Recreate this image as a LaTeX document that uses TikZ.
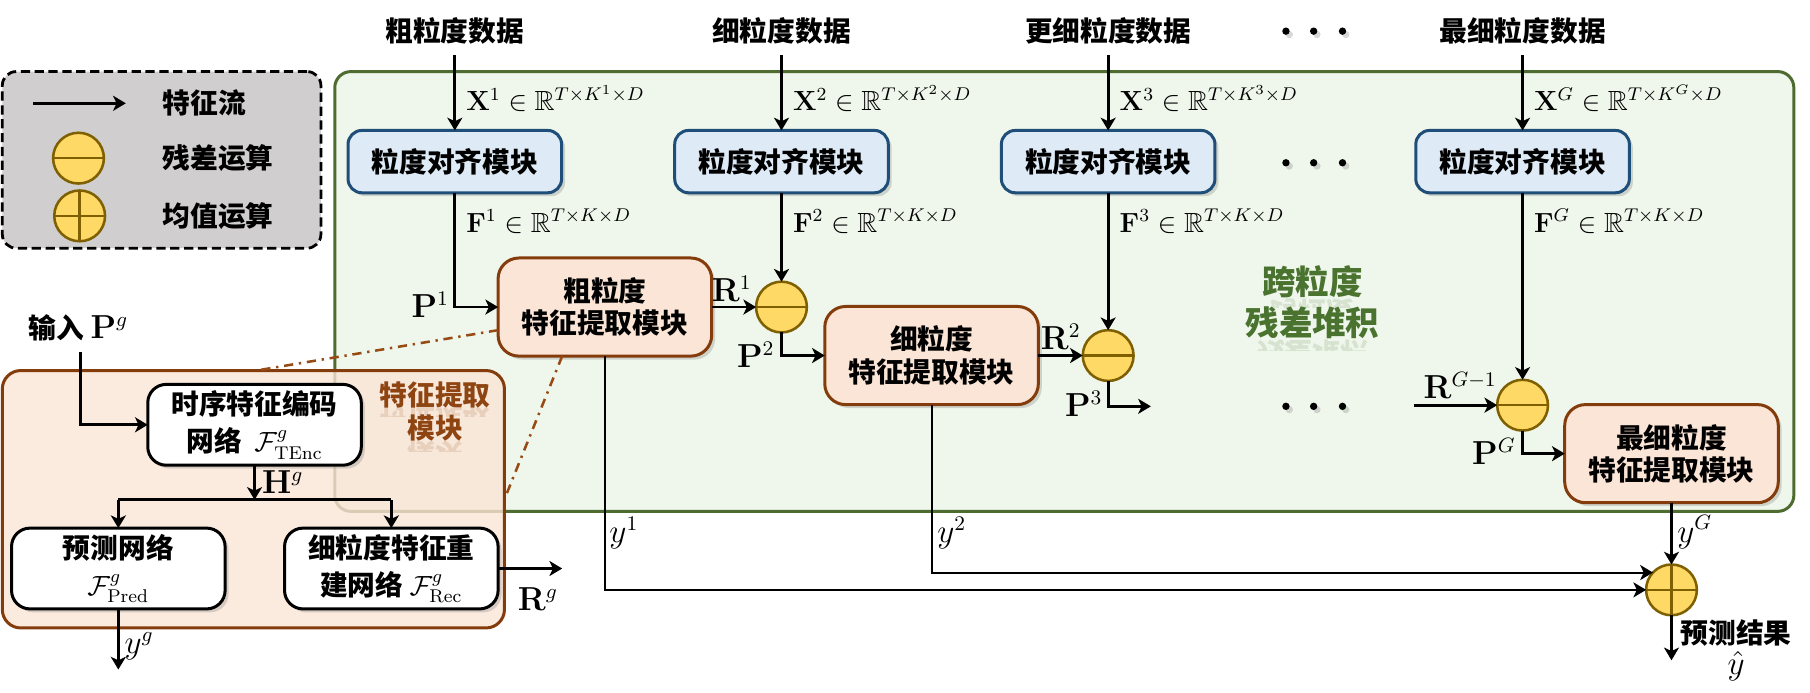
\documentclass[tikz,border=0pt]{standalone}
\usepackage{amsmath,amssymb}
\usepackage[no-math]{fontspec}
\setmainfont{Noto Sans CJK SC}
\usetikzlibrary{arrows.meta,shadows,calc}
\definecolor{gborder}{HTML}{4E6B30}
\definecolor{gfill}{HTML}{EFF6EB}
\definecolor{bfill}{HTML}{DEEBF7}
\definecolor{bborder}{HTML}{1F4E79}
\definecolor{ofill}{HTML}{FBE5D6}
\definecolor{oborder}{HTML}{843C0C}
\definecolor{cfill}{HTML}{FFD966}
\definecolor{cborder}{HTML}{7F6000}
\definecolor{legfill}{HTML}{D0CECE}
\definecolor{gtext}{HTML}{4A7330}
\definecolor{btext}{HTML}{8F4512}
\definecolor{dashc}{HTML}{984A14}
\newcommand{\myrefl}[6]{% x, y, text, color, axis offset, clip depth
  \begin{scope}
    \clip (#1-80,#2+#5) rectangle (#1+80,#2+#5+#6);
    \node[transform shape, yscale=-1, opacity=0.14, text=#4] at (#1,#2+2*#5) {#3};
  \end{scope}}
\begin{document}
\begin{tikzpicture}[x=0.5pt,y=-0.5pt,
  font=\fontsize{12}{14}\selectfont\bfseries,
  every node/.style={inner sep=0pt, outer sep=0pt},
  arr/.style={-{Stealth[length=5.5pt,width=6.5pt,inset=1.5pt]}, line width=1.2pt},
  yarr/.style={-{Stealth[length=5.5pt,width=6.5pt,inset=1.5pt]}, line width=0.9pt},
  ln/.style={line width=1.2pt},
  sym/.style={font=\fontsize{13.5}{15}\selectfont},
  shd/.style={drop shadow={opacity=0.3, shadow xshift=1.5pt, shadow yshift=-1.5pt}},
  alignbox/.style={draw=bborder, fill=bfill, line width=1.3pt, rounded corners=6pt,
    minimum width=92.5pt, minimum height=27pt, shd},
  modbox/.style={draw=oborder, fill=ofill, line width=1.3pt, rounded corners=9pt,
    minimum width=92.5pt, minimum height=42.5pt, align=center, shd},
  netbox/.style={draw=black, fill=white, line width=1.3pt, rounded corners=8pt,
    minimum width=92.5pt, minimum height=35pt, align=center, shd,
    font=\fontsize{12}{15}\selectfont\bfseries},
  opminus/.style={circle, draw=cborder, fill=cfill, line width=1.1pt, minimum size=22pt,
    path picture={\draw[cborder, line width=1.1pt] (path picture bounding box.west) -- (path picture bounding box.east);}},
  opplus/.style={circle, draw=cborder, fill=cfill, line width=1.1pt, minimum size=22pt,
    path picture={\draw[cborder, line width=1.1pt] (path picture bounding box.west) -- (path picture bounding box.east);
      \draw[cborder, line width=1.1pt] (path picture bounding box.north) -- (path picture bounding box.south);}},
  dotn/.style={circle, fill=black, minimum size=3.2pt,
    circular drop shadow={opacity=0.3, shadow xshift=1.2pt, shadow yshift=-1.2pt}},
  dd/.style={dashc, line width=1.1pt, dash pattern=on 4pt off 2.5pt on 1pt off 2.5pt},
]
\fill[white] (0,0) rectangle (1568,599.5);
\useasboundingbox (0,0) rectangle (1568,599.5);

% containers
\node[draw=gborder, fill=gfill, line width=1.3pt, rounded corners=7pt,
  minimum width=632pt, minimum height=190.5pt] (gbox) at (922,252.5) {};
\node[draw=oborder, fill=ofill, fill opacity=0.8, line width=1.3pt, rounded corners=8pt,
  minimum width=217.5pt, minimum height=111.5pt] (febox) at (219.5,432.5) {};

% legend
\node[draw=black, dashed, dash pattern=on 4pt off 2pt, fill=legfill, line width=1.2pt, rounded corners=6pt,
  minimum width=138pt, minimum height=76.5pt] (leg) at (140,138.5) {};
\coordinate (la1) at (29,89.5);
\coordinate (la2) at (109,89.5);
\draw[arr] (la1) -- (la2);
\node[anchor=west] (lt1) at (141,89.5) {特征流};
\node[opminus] (lm) at (68,137) {};
\node[anchor=west] (lt2) at (141,137) {残差运算};
\node[opplus] (lp) at (69,187) {};
\node[anchor=west] (lt3) at (141,187) {均值运算};

% top labels
\node (t1) at (394,27) {粗粒度数据};
\node (t2) at (677,27) {细粒度数据};
\node (t3) at (960,27) {更细粒度数据};
\node (tG) at (1319,27) {最细粒度数据};
\foreach \i/\yy in {1/27,2/141,3/352}{
  \node[dotn] (da\i) at (1114,\yy) {};
  \node[dotn] (db\i) at (1138,\yy) {};
  \node[dotn] (dc\i) at (1163,\yy) {};
}
\coordinate (s1) at (394,48);
\coordinate (s2) at (677,48);
\coordinate (s3) at (960,48);
\coordinate (sG) at (1319,48);

% alignment boxes
\node[alignbox] (a1) at (394,140) {粒度对齐模块};
\node[alignbox] (a2) at (677,140) {粒度对齐模块};
\node[alignbox] (a3) at (960,140) {粒度对齐模块};
\node[alignbox] (aG) at (1319,140) {粒度对齐模块};
\draw[arr] (s1) -- (a1.north);
\draw[arr] (s2) -- (a2.north);
\draw[arr] (s3) -- (a3.north);
\draw[arr] (sG) -- (aG.north);
\node[anchor=base west] (x1) at (404,96) {$\mathbf{X}^1\in\mathbb{R}^{T\times K^1\times D}$};
\node[anchor=base west] (x2) at (687,96) {$\mathbf{X}^2\in\mathbb{R}^{T\times K^2\times D}$};
\node[anchor=base west] (x3) at (970,96) {$\mathbf{X}^3\in\mathbb{R}^{T\times K^3\times D}$};
\node[anchor=base west] (xG) at (1329,96) {$\mathbf{X}^G\in\mathbb{R}^{T\times K^G\times D}$};
\node[anchor=base west] (f1) at (404,201) {$\mathbf{F}^1\in\mathbb{R}^{T\times K\times D}$};
\node[anchor=base west] (f2) at (687,201) {$\mathbf{F}^2\in\mathbb{R}^{T\times K\times D}$};
\node[anchor=base west] (f3) at (970,201) {$\mathbf{F}^3\in\mathbb{R}^{T\times K\times D}$};
\node[anchor=base west] (fG) at (1329,201) {$\mathbf{F}^G\in\mathbb{R}^{T\times K\times D}$};

% modules and residual ops
\node[modbox] (m1) at (524,266) {粗粒度\\特征提取模块};
\node[modbox] (m2) at (807,308) {细粒度\\特征提取模块};
\node[modbox] (mG) at (1448,393) {最细粒度\\特征提取模块};
\node[opminus] (c1) at (677,266) {};
\node[opminus] (c2) at (960,308) {};
\node[opminus] (cG) at (1319,351) {};

\draw[arr] (a1.south) |- (m1.west);
\draw[arr] (m1.east) -- (c1.west);
\draw[arr] (a2.south) -- (c1.north);
\draw[arr] (c1.south) |- (m2.west);
\draw[arr] (m2.east) -- (c2.west);
\draw[arr] (a3.south) -- (c2.north);
\coordinate (p3e) at (997,352);
\draw[arr] (c2.south) |- (p3e);
\coordinate (rgs) at (1225,351);
\draw[arr] (rgs) -- (cG.west);
\draw[arr] (aG.south) -- (cG.north);
\draw[arr] (cG.south) |- (mG.west);

\node[sym, anchor=east] (lp1) at (389,264) {$\mathbf{P}^1$};
\node[sym] (lr1) at (634,250) {$\mathbf{R}^1$};
\node[sym, anchor=east] (lp2) at (671,307) {$\mathbf{P}^2$};
\node[sym] (lr2) at (919,292) {$\mathbf{R}^2$};
\node[sym, anchor=east] (lp3) at (955,350) {$\mathbf{P}^3$};
\node[sym] (lrg) at (1265,334) {$\mathbf{R}^{G-1}$};
\node[sym, anchor=east] (lpg) at (1313,391) {$\mathbf{P}^G$};

% output aggregation
\node[opplus] (plus) at (1448,511) {};
\draw[yarr] (m1.south) |- (plus.west);
\draw[yarr] (m2.south) |- (plus.137);
\draw[yarr] (mG.south) -- (plus.north);
\coordinate (yend) at (1448,572);
\draw[yarr] (plus.south) -- (yend);
\node[sym, anchor=west] (ly1) at (528,462) {$y^1$};
\node[sym, anchor=west] (ly2) at (812,462) {$y^2$};
\node[sym, anchor=west] (lyg) at (1453,461) {$y^G$};
\node[anchor=west] (res) at (1456,548) {预测结果};
\node[sym] (yhat) at (1504,577) {$\hat{y}$};

% group labels with reflection
\node[text=gtext, font=\fontsize{14.5}{16}\selectfont\bfseries] (gl1) at (1137,244) {跨粒度};
\node[text=gtext, font=\fontsize{14.5}{16}\selectfont\bfseries] (gl2) at (1137,280) {残差堆积};
{\fontsize{14.5}{16}\selectfont\bfseries
\myrefl{1137}{244}{跨粒度}{gtext}{13}{9}
\myrefl{1137}{280}{残差堆积}{gtext}{13}{11}}

% feature extraction detail
\node (inp) at (68,284) {输入 {\fontsize{13.5}{15}\selectfont$\mathbf{P}^g$}};
\coordinate (inps) at (70,305);
\node[netbox] (enc) at (220.5,368) {时序特征编码\\[1pt]网络~~$\mathcal{F}^{g}_{\mathrm{TEnc}}$};
\node[netbox] (pred) at (102.5,492.5) {预测网络\\[1pt]$\mathcal{F}^{g}_{\mathrm{Pred}}$};
\node[netbox] (rec) at (339,492.5) {细粒度特征重\\[1pt]建网络 $\mathcal{F}^{g}_{\mathrm{Rec}}$};
\draw[arr] (inps) |- (enc.west);
\coordinate (hj) at (220.5,433);
\draw[arr] (enc.south) -- (hj);
\draw[ln] (pred.north |- hj) -- (rec.north |- hj);
\draw[arr] (pred.north |- hj) -- (pred.north);
\draw[arr] (rec.north |- hj) -- (rec.north);
\node[sym, anchor=west] (lh) at (227,418) {$\mathbf{H}^g$};
\coordinate (rge) at (487,492.5);
\draw[arr] (rec.east) -- (rge);
\node[sym] (lrg2) at (466,519) {$\mathbf{R}^g$};
\coordinate (yge) at (102.5,580);
\draw[arr] (pred.south) -- (yge);
\node[sym, anchor=west] (lyg2) at (108,560) {$y^g$};

\node[text=btext] (fl1) at (377,342) {特征提取};
\node[text=btext] (fl2) at (377,371) {模块};
\myrefl{377}{342}{特征提取}{btext}{11}{8}
\myrefl{377}{371}{模块}{btext}{11}{9}

% zoom lines
\coordinate (dd1a) at ($(m1.west)+(0,20)$);
\coordinate (dd1b) at (222,321);
\coordinate (dd2a) at ($(m1.south)+(-37,0)$);
\coordinate (dd2b) at (438,430);
\draw[dd] (dd1a) -- (dd1b);
\draw[dd] (dd2a) -- (dd2b);
\end{tikzpicture}
\end{document}
